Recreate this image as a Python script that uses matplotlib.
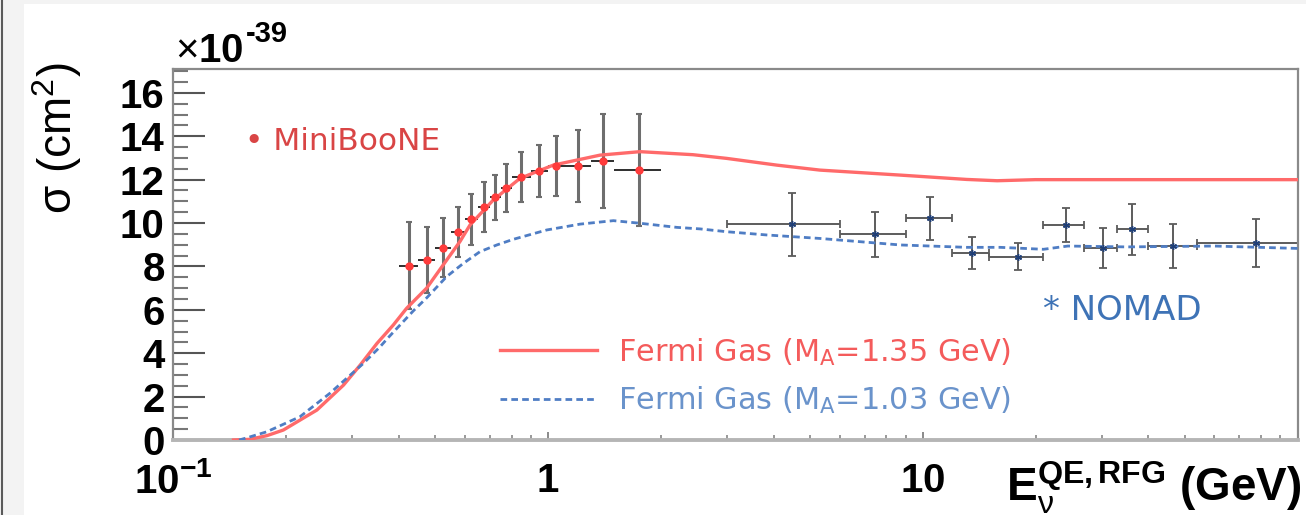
import numpy as np
import matplotlib
matplotlib.use('Agg')
import matplotlib.pyplot as plt
from matplotlib.patches import Rectangle
from matplotlib.lines import Line2D
from matplotlib.ticker import MultipleLocator, LogLocator, NullFormatter, FixedLocator, FixedFormatter

plt.rcParams['font.family'] = ['Liberation Sans', 'DejaVu Sans']
plt.rcParams['mathtext.fontset'] = 'custom'
plt.rcParams['mathtext.rm'] = 'Liberation Sans'
plt.rcParams['mathtext.bf'] = 'Liberation Sans:bold'
plt.rcParams['mathtext.it'] = 'Liberation Sans:italic'

# MiniBooNE flux-unfolded CCQE cross section (units of 1e-39 cm^2)
mb_lo = [0.40, 0.45, 0.50, 0.55, 0.60, 0.65, 0.70, 0.75, 0.80, 0.90, 1.00, 1.10, 1.30, 1.50]
mb_hi = [0.45, 0.50, 0.55, 0.60, 0.65, 0.70, 0.75, 0.80, 0.90, 1.00, 1.10, 1.30, 1.50, 2.00]
mb_sig = [8.03, 8.29, 8.86, 9.59, 10.18, 10.74, 11.18, 11.60, 12.12, 12.40, 12.63, 12.64, 12.86, 12.44]
mb_err = [2.00, 1.52, 1.37, 1.17, 1.18, 1.15, 1.04, 1.10, 1.17, 1.19, 1.38, 1.67, 2.15, 2.58]

# NOMAD
nd_E = [4.48, 7.46, 10.47, 13.5, 18.0, 24.1, 30.2, 36.1, 46.5, 77.4]
nd_lo = [3, 6, 9, 12, 15, 21, 27, 33, 40, 54]
nd_hi = [6, 9, 12, 15, 21, 27, 33, 40, 54, 100]
nd_sig = [9.95, 9.48, 10.22, 8.63, 8.45, 9.91, 8.86, 9.71, 8.95, 9.09]
nd_err = [1.45, 1.05, 1.00, 0.73, 0.62, 0.77, 0.93, 1.16, 1.00, 1.10]

# Fermi gas predictions
rfg135_E = [0.145, 0.160, 0.178, 0.197, 0.242, 0.285, 0.316, 0.350, 0.387, 0.420, 0.475, 0.537,
            0.583, 0.620, 0.715, 0.843, 1.034, 1.378, 1.762, 2.44, 3.0, 4.08, 5.32, 8.71, 13.1, 15.8, 20, 100]
rfg135_sig = [0.0, 0.03, 0.20, 0.46, 1.38, 2.53, 3.46, 4.45, 5.30, 6.07, 7.00, 8.29,
              9.15, 9.91, 11.06, 12.06, 12.67, 13.13, 13.29, 13.15, 12.98, 12.67, 12.44, 12.21, 12.01, 11.95, 12.0, 12.0]
rfg103_E = [0.150, 0.156, 0.178, 0.218, 0.262, 0.322, 0.357, 0.372, 0.4375, 0.475, 0.537, 0.595, 0.659,
            0.731, 0.809, 0.993, 1.219, 1.496, 1.762, 2.21, 2.547, 3.0, 3.84, 5.32, 8.71, 13.1, 16.1, 21, 24.4,
            35, 60, 100]
rfg103_sig = [0.0, 0.08, 0.38, 1.07, 2.15, 3.53, 4.30, 4.65, 5.95, 6.55, 7.53, 8.14, 8.68,
              8.99, 9.25, 9.68, 9.95, 10.11, 9.99, 9.80, 9.73, 9.60, 9.45, 9.29, 8.99, 8.88, 8.88, 8.79, 8.94,
              8.90, 8.94, 8.83]

xtick_vals = [0.1, 1, 10]
xtick_labels = [r'$\mathbf{10^{-1}}$', r'$\mathbf{1}$', r'$\mathbf{10}$']
ytick_vals = [0, 2, 4, 6, 8, 10, 12, 14, 16]

W, H = 1306, 515
fig = plt.figure(figsize=(W / 100, H / 100), dpi=100, facecolor='#f3f3f3')


def fx(px):
    return px / W


def fy(py):
    return 1 - py / H


# white panel + dark frame line like the screenshot
fig.patches.append(Rectangle((fx(24), 0), 1, fy(4), transform=fig.transFigure,
                             facecolor='white', edgecolor='none', zorder=-1))
fig.add_artist(Line2D([fx(2), fx(2)], [0, 1], color='#5a5a5a', lw=1.5))

ax = fig.add_axes([fx(173), fy(440), fx(1297.5) - fx(173), fy(69) - fy(440)])
ax.set_xscale('log')
ax.set_xlim(0.1, 100)
ax.set_ylim(0, 17.1)

for side in ['left', 'top', 'right']:
    ax.spines[side].set_color('#8a8a8a')
    ax.spines[side].set_linewidth(1.6)
ax.spines['bottom'].set_color('#b5b5b5')
ax.spines['bottom'].set_linewidth(2.8)

# data
mb_x = [(a + b) / 2 for a, b in zip(mb_lo, mb_hi)]
mb_xerr = [np.subtract(mb_x, mb_lo), np.subtract(mb_hi, mb_x)]
ax.errorbar(mb_x, mb_sig, yerr=mb_err, fmt='none', ecolor='#6e6e6e', elinewidth=2.2,
            capsize=2.5, capthick=1.5, zorder=2)
ax.errorbar(mb_x, mb_sig, xerr=mb_xerr, fmt='none', ecolor='#2e2e2e', elinewidth=1.4,
            capsize=0, zorder=2)

nd_xerr = [np.subtract(nd_E, nd_lo), np.subtract(nd_hi, nd_E)]
ax.errorbar(nd_E, nd_sig, xerr=nd_xerr, yerr=nd_err, fmt='none', ecolor='#5c5c5c',
            elinewidth=1.4, capsize=3, capthick=1.3, zorder=2)
ax.plot(nd_E, nd_sig, ls='none', marker=(6, 2, 0), color='#1f3f78', ms=5, zorder=4)

l1, = ax.plot(rfg135_E, rfg135_sig, color='#ff6a6a', lw=2.4, zorder=3)
l2, = ax.plot(rfg103_E, rfg103_sig, color='#4f7dc4', lw=2.0, ls=(0, (2.4, 1.5)), zorder=3)
ax.plot(mb_x, mb_sig, 'o', color='#ff3b3b', ms=6, mec='none', zorder=5)

# ticks
ax.yaxis.set_major_locator(FixedLocator(ytick_vals))
ax.yaxis.set_minor_locator(MultipleLocator(0.5))
ax.xaxis.set_major_locator(FixedLocator(xtick_vals))
ax.xaxis.set_major_formatter(FixedFormatter(xtick_labels))
ax.xaxis.set_minor_locator(LogLocator(base=10, subs=np.arange(2, 10)))
ax.xaxis.set_minor_formatter(NullFormatter())
ax.tick_params(axis='y', which='major', direction='in', length=23, width=1.5, color='#555555',
               labelsize=29, pad=6)
ax.tick_params(axis='y', which='minor', direction='in', length=11, width=1.5, color='#777777')
ax.tick_params(axis='x', which='major', direction='in', length=6, width=1.2, color='#777777',
               labelsize=29, pad=16)
ax.tick_params(axis='x', which='minor', direction='in', length=3.5, width=1.2, color='#888888')
for lab in ax.get_yticklabels():
    lab.set_fontweight('bold')

# axis titles
fig.text(fx(57), fy(138), 'σ (cm$^{\\mathregular{2}}$)', rotation=90, fontsize=33,
         ha='center', va='center')
fig.text(fx(175), fy(62), r'$\times$10', fontsize=29, fontweight='bold',
         ha='left', va='baseline')
fig.text(fx(246), fy(42), '-39', fontsize=21, fontweight='bold', ha='left', va='baseline')
fig.text(fx(1302), fy(502), r'$\mathbf{E}_{\mathrm{\nu}}^{\mathbf{QE,RFG}}$ (GeV)', fontsize=33,
         fontweight='bold', ha='right', va='baseline')

# annotations
fig.text(fx(245), fy(142), '• MiniBooNE', color='#d94545', fontsize=22.5,
         family='DejaVu Sans', ha='left', va='center')
fig.text(fx(1043), fy(310), '* NOMAD', color='#3e73b6', fontsize=24.5,
         family='DejaVu Sans', ha='left', va='center')

ax.legend([l1, l2], [r'Fermi Gas (M$_\mathregular{A}$=1.35 GeV)', r'Fermi Gas (M$_\mathregular{A}$=1.03 GeV)'],
          loc='center left', bbox_to_anchor=(fx(500), fy(376)), bbox_transform=fig.transFigure,
          frameon=False, prop={'family': 'DejaVu Sans', 'size': 21.8}, labelcolor=['#f45b5b', '#6a93cb'],
          handlelength=3.2, handletextpad=0.7, labelspacing=0.55, borderpad=0, borderaxespad=0)

fig.savefig('out.png', dpi=100, facecolor=fig.get_facecolor())
